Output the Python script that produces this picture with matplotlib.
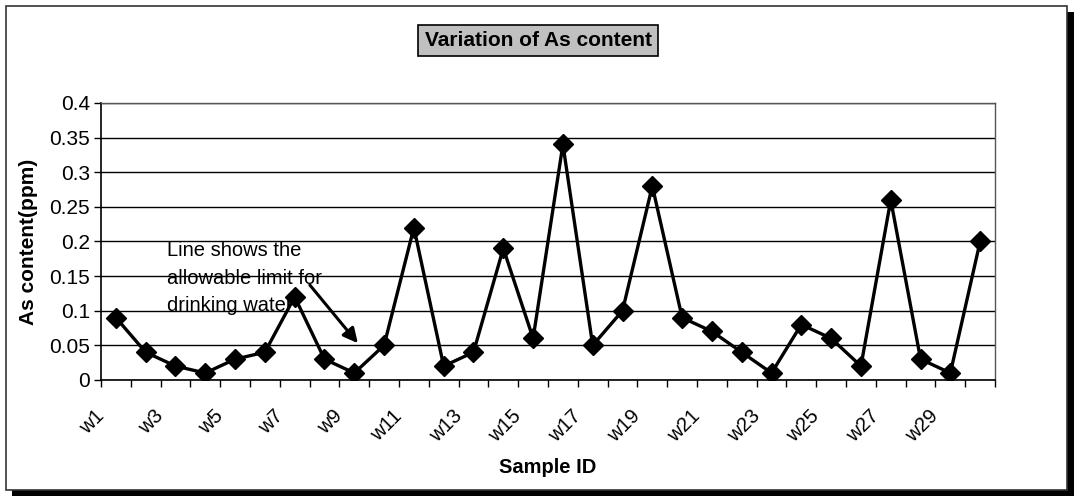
import numpy as np
import matplotlib.pyplot as plt
from matplotlib.patches import Rectangle
from matplotlib.transforms import ScaledTranslation

samples = ['w%d' % i for i in range(1, 31)]
as_content = [0.09, 0.04, 0.02, 0.01, 0.03, 0.04, 0.12, 0.03, 0.01, 0.05,
              0.22, 0.02, 0.04, 0.19, 0.06, 0.34, 0.05, 0.10, 0.28, 0.09,
              0.07, 0.04, 0.01, 0.08, 0.06, 0.02, 0.26, 0.03, 0.01, 0.20]
y_ticks = [0, 0.05, 0.1, 0.15, 0.2, 0.25, 0.3, 0.35, 0.4]
y_tick_labels = ['0', '0.05', '0.1', '0.15', '0.2', '0.25', '0.3', '0.35', '0.4']

plt.rcParams['font.family'] = ['Liberation Sans', 'DejaVu Sans']

fig = plt.figure(figsize=(10.74, 4.96), dpi=100)
ax = fig.add_axes([0.094, 0.234, 0.8325, 0.5585])

x = np.arange(len(samples))
ax.plot(x, as_content, color='black', lw=2.4, marker='D', markersize=10,
        markerfacecolor='black', markeredgecolor='black', zorder=3)

ax.set_xlim(-0.5, len(samples) - 0.5)
ax.set_ylim(0, 0.4)
ax.set_yticks(y_ticks)
ax.set_yticklabels(y_tick_labels, fontsize=15)
ax.yaxis.grid(True, color='black', lw=1.0)
ax.set_axisbelow(True)

# labels on every other sample, tick marks between categories
ax.set_xticks(x[::2])
ax.set_xticklabels(samples[::2], fontsize=14.5, rotation=45, ha='right', va='top')
ax.set_xticks(np.arange(-0.5, len(samples)), minor=True)
ax.tick_params(axis='x', which='major', length=0, pad=19)
ax.tick_params(axis='x', which='minor', length=5, direction='out', width=1)
ax.tick_params(axis='y', length=5, direction='out', width=1, pad=3)
shift = ScaledTranslation(-8 / 100, 0, fig.dpi_scale_trans)
for lbl in ax.get_xticklabels():
    lbl.set_transform(lbl.get_transform() + shift)

for side in ['top', 'right']:
    ax.spines[side].set_color('#555555')
    ax.spines[side].set_linewidth(1.0)
for side in ['left', 'bottom']:
    ax.spines[side].set_color('black')
    ax.spines[side].set_linewidth(1.2)

ax.set_xlabel('Sample ID', fontsize=14.5, fontweight='bold', labelpad=9)
ax.set_ylabel('As content(ppm)', fontsize=15, fontweight='bold', labelpad=8)

# note and its arrow
ax.text(1.7, 0.2, 'Line shows the\nallowable limit for\ndrinking water',
        fontsize=14.5, va='top', ha='left', linespacing=1.55)
ax.annotate('', xy=(8.12, 0.053), xytext=(6.51, 0.137),
            arrowprops=dict(arrowstyle='-|>', color='black', lw=2.2,
                            mutation_scale=22, shrinkA=0, shrinkB=0))

fig.text(0.501, 0.918, 'Variation of As content', ha='center', va='center',
         fontsize=15, fontweight='bold',
         bbox=dict(boxstyle='square,pad=0.3', facecolor='#c0c0c0',
                   edgecolor='black', lw=1.2))

# chart border with drop shadow
fig.add_artist(Rectangle((12 / 1074, 0), 1 - 12 / 1074, 6 / 496,
                         transform=fig.transFigure, facecolor='black', edgecolor='none'))
fig.add_artist(Rectangle((1067 / 1074, 0), 7 / 1074, 1 - 12 / 496,
                         transform=fig.transFigure, facecolor='black', edgecolor='none'))
fig.add_artist(Rectangle((6 / 1074, 6 / 496), 1061 / 1074, 484 / 496,
                         transform=fig.transFigure, facecolor='none',
                         edgecolor='#333333', lw=1.2))

fig.savefig('out.png', dpi=100)
